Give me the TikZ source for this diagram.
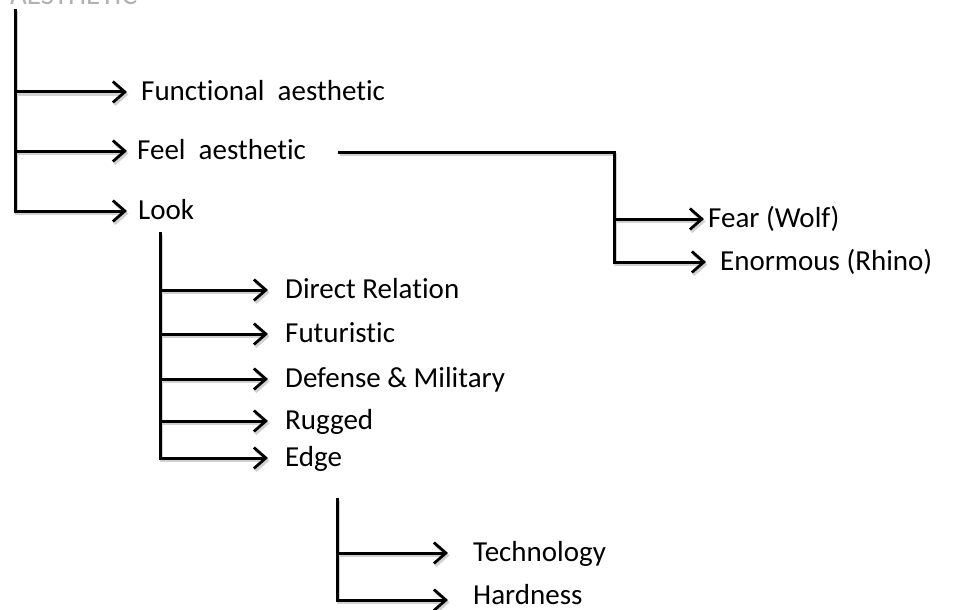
\documentclass[tikz,border=0pt]{standalone}
\usepackage{fontspec}
\setmainfont[Ligatures=NoCommon]{Carlito}
\usetikzlibrary{arrows.meta}
\tikzset{
  ln/.style={line width=3pt, line join=miter,
    preaction={draw=black!18, line width=3.5pt, transform canvas={shift={(1.5pt,-2.5pt)}}}},
  arr/.style={ln, -{Straight Barb[length=12pt,width=21pt,line width=2.8pt]}},
  lbl/.style={anchor=base west, inner xsep=#1, inner ysep=0pt, font=\fontsize{29}{33}\selectfont},
  lbl/.default=12pt,
  ttl/.style={anchor=base west, inner sep=0pt, text=black!30, font=\fontsize{29}{33}\selectfont}
}
\begin{document}
\begin{tikzpicture}[x=1pt,y=-1pt]
\useasboundingbox (0,0) rectangle (954,610);
\clip (0,0) rectangle (954,610);
% clipped title
\node[ttl] (title) at (10,5) {AESTHETIC};
% junction coordinates
\coordinate (m0) at (15,9);
\coordinate (m1) at (15,92);
\coordinate (m2) at (15,151);
\coordinate (m3) at (15,211);
\coordinate (l0) at (160,232);
\coordinate (l1) at (160,290);
\coordinate (l2) at (160,334);
\coordinate (l3) at (160,379);
\coordinate (l4) at (160,421);
\coordinate (l5) at (160,458);
\coordinate (f0) at (614,152);
\coordinate (f1) at (614,219);
\coordinate (f2) at (614,262);
\coordinate (e0) at (337,498);
\coordinate (e1) at (337,553);
\coordinate (e2) at (337,600);
% labels
\node[lbl=14pt] (fa) at (127,100.5) {Functional\ \ aesthetic};
\node[lbl=10pt] (fe) at (127,159) {Feel\ \ aesthetic};
\node[lbl=11pt] (lk) at (127,219.5) {Look};
\node[lbl=17pt] (dr) at (268,298) {Direct Relation};
\node[lbl=17pt] (fu) at (268,342) {Futuristic};
\node[lbl=17pt] (dm) at (268,387) {Defense \& Military};
\node[lbl=17pt] (ru) at (268,429) {Rugged};
\node[lbl=17pt] (ed) at (268,466) {Edge};
\node[lbl=4pt] (fw) at (704,227) {Fear (Wolf)};
\node[lbl=14pt] (er) at (706,270) {Enormous (Rhino)};
\node[lbl=25pt] (te) at (448,561) {Technology};
\node[lbl=25pt] (ha) at (448,604) {Hardness};
% connectors
\draw[arr] (m0) -- (m3) -- (m3 -| lk.west);
\draw[arr] (m1) -- (m1 -| fa.west);
\draw[arr] (m2) -- (m2 -| fe.west);
\draw[arr, shorten <=22pt] (fe.east |- f0) -- (f0) -- (f2) -- (f2 -| er.west);
\draw[arr] (f1) -- (f1 -| fw.west);
\draw[arr] (l0) -- (l5) -- (l5 -| ed.west);
\draw[arr] (l1) -- (l1 -| dr.west);
\draw[arr] (l2) -- (l2 -| fu.west);
\draw[arr] (l3) -- (l3 -| dm.west);
\draw[arr] (l4) -- (l4 -| ru.west);
\draw[arr] (e0) -- (e2) -- (e2 -| ha.west);
\draw[arr] (e1) -- (e1 -| te.west);
\end{tikzpicture}
\end{document}
